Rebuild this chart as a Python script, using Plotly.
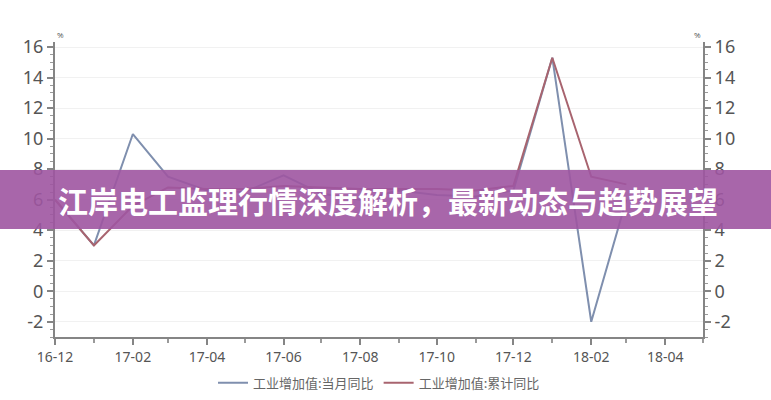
import plotly.graph_objects as go

months = ["2016-12", "2017-01", "2017-02", "2017-03", "2017-04", "2017-05", "2017-06",
          "2017-07", "2017-08", "2017-09", "2017-10", "2017-11", "2017-12",
          "2018-01", "2018-02", "2018-03"]
monthly_yoy = [6.0, 3.0, 10.3, 7.5, 6.6, 6.5, 7.6, 6.4, 6.0, 6.6, 6.3, 6.2, 6.6, 15.3, -2.0, 6.0]
cumulative_yoy = [6.0, 3.0, 5.6, 6.8, 6.7, 6.7, 6.9, 6.8, 6.7, 6.7, 6.7, 6.6, 6.9, 15.3, 7.5, 7.0]
series_names = ["工业增加值:当月同比", "工业增加值:累计同比"]
y_ticks = [-2, 0, 2, 4, 6, 8, 10, 12, 14, 16]
y_tick_labels = ["-2", "0", "2", "4", "6", "8", "10", "12", "14", "16"]
title_text = "江岸电工监理行情深度解析，最新动态与趋势展望"

W, H = 771, 400
ml, mr, mt, mb = 55, 68, 42, 63
pw, ph = W - ml - mr, H - mt - mb

fig = go.Figure()
fig.add_trace(go.Scatter(x=months, y=monthly_yoy, mode="lines", name=series_names[0],
                         line=dict(color="#7f8fae", width=2)))
fig.add_trace(go.Scatter(x=months, y=cumulative_yoy, mode="lines", name=series_names[1],
                         line=dict(color="#a8646f", width=2), yaxis="y2"))

axis_common = dict(
    range=[-3, 16.33], tickvals=y_ticks, ticktext=y_tick_labels,
    showline=True, linecolor="#858585", linewidth=2,
    ticks="outside", ticklen=6, tickwidth=1.5, tickcolor="#858585",
    tickfont=dict(family="Noto Sans", size=18, color="#555555"),
    minor=dict(dtick=0.5, ticks="outside", ticklen=3, tickcolor="#9a9a9a", tickwidth=1),
    zeroline=False, fixedrange=True, automargin=False,
)
fig.update_layout(
    width=W, height=H,
    margin=dict(l=ml, r=mr, t=mt, b=mb, autoexpand=False),
    paper_bgcolor="white", plot_bgcolor="white",
    showlegend=True,
    legend=dict(orientation="h", x=0.5, xanchor="center", y=-0.155, yanchor="middle",
                font=dict(family="Noto Sans CJK SC", size=13, color="#666666"),
                bgcolor="rgba(0,0,0,0)"),
    xaxis=dict(
        type="date", range=["2016-12-01", "2018-05-01"], dtick="M2", tick0="2016-12-01",
        tickformat="%y-%m", showline=True, linecolor="#858585", linewidth=2,
        ticks="outside", ticklen=6, tickwidth=1.5, tickcolor="#858585",
        tickfont=dict(family="Noto Sans", size=14, color="#555555"),
        minor=dict(dtick="M1", ticks="outside", ticklen=4, tickcolor="#9a9a9a"),
        showgrid=False, zeroline=False, automargin=False, fixedrange=True,
    ),
    yaxis=dict(**axis_common, side="left", showgrid=True, gridcolor="#f1f1f1", gridwidth=1),
    yaxis2=dict(**axis_common, side="right", overlaying="y", showgrid=False),
)

# unit labels
fig.add_annotation(text="%", xref="paper", yref="paper", x=5 / pw, y=1.0, showarrow=False,
                   font=dict(size=8, color="#555555"), xanchor="center", yanchor="bottom")
fig.add_annotation(text="%", xref="paper", yref="paper", x=1 - 6 / pw, y=1.0, showarrow=False,
                   font=dict(size=8, color="#555555"), xanchor="center", yanchor="bottom")

# banner
y0 = (H - mb - 229) / ph
y1 = (H - mb - 170) / ph
fig.add_shape(type="rect", xref="paper", yref="paper", x0=-ml / pw - 0.01, x1=(W - ml) / pw + 0.01,
              y0=y0, y1=y1, fillcolor="rgba(158,85,161,0.9)", line=dict(width=0), layer="above")
fig.add_annotation(text="<b>" + title_text + "</b>", xref="paper", yref="paper",
                   x=(388 - ml) / pw, y=(y0 + y1) / 2, showarrow=False,
                   font=dict(family="Noto Sans CJK SC", size=30, color="white"),
                   xanchor="center", yanchor="middle")

fig.write_html("out.html", config={"displayModeBar": False},
               post_script="document.body.style.margin='0px';")
